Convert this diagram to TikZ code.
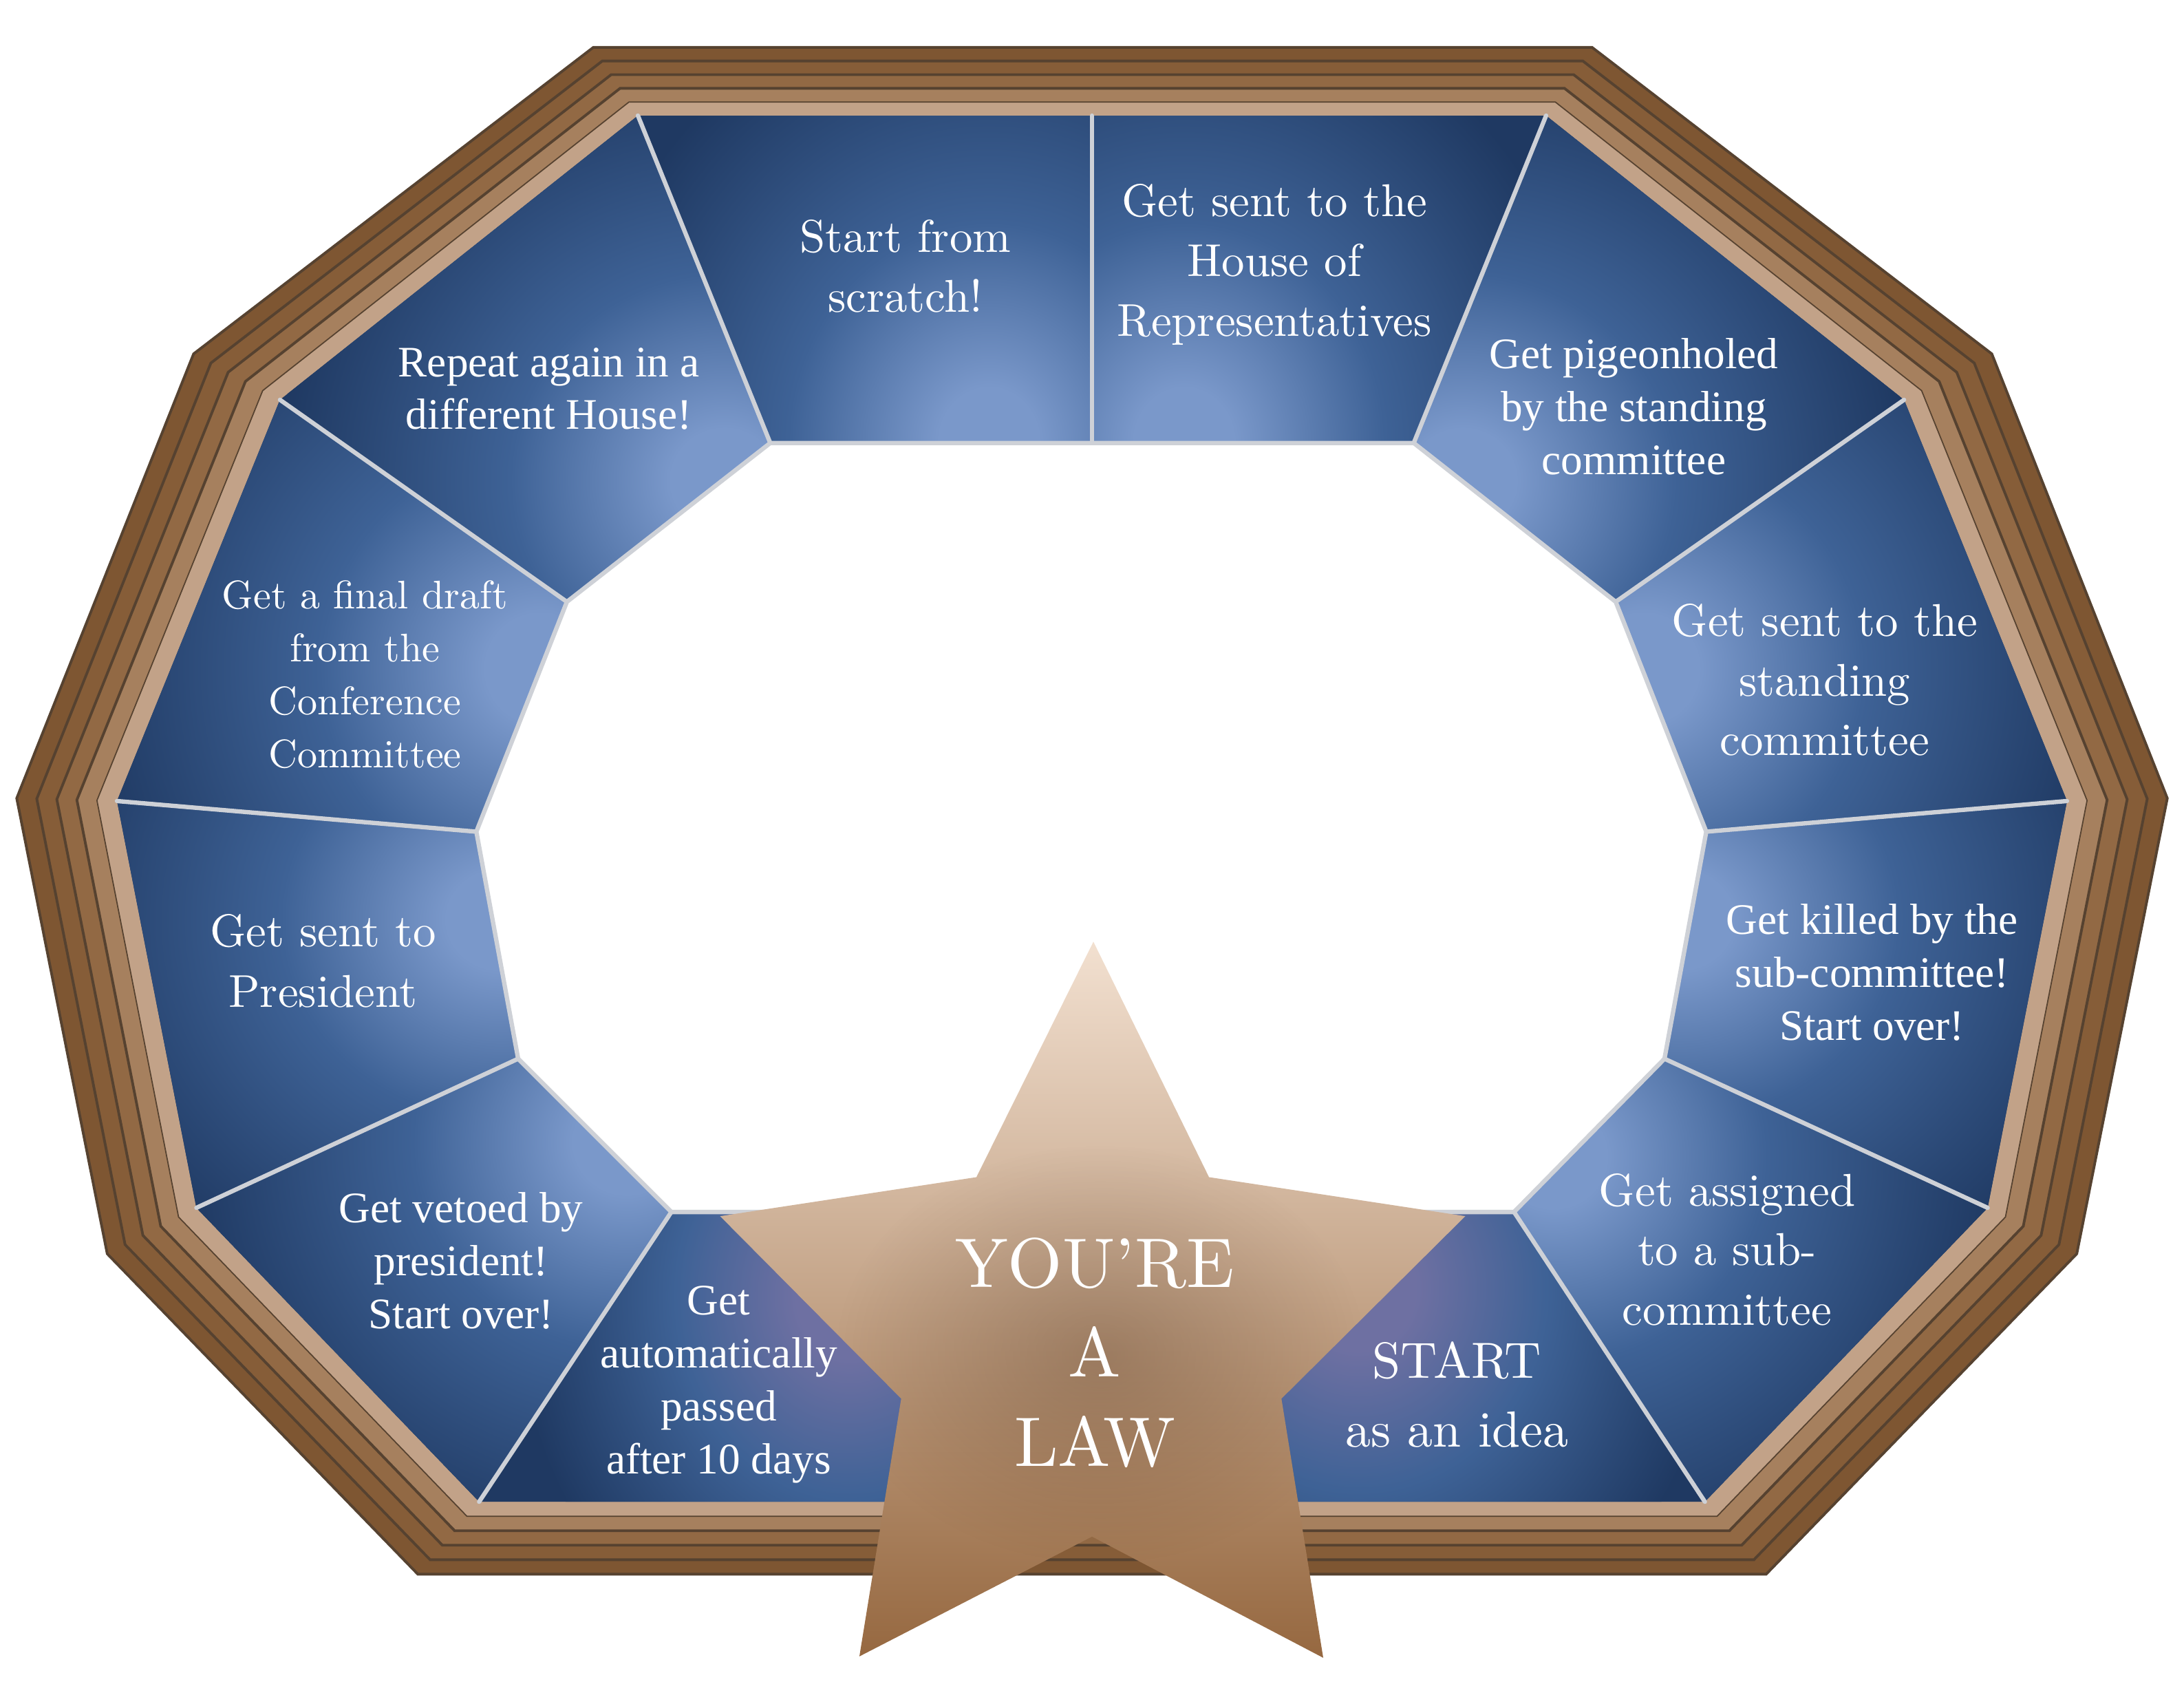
\documentclass[tikz,border=0pt]{standalone}
\usepackage{fontspec}
\newfontfamily\tnr{Liberation Serif}
\newfontfamily\lmr{lmroman10-regular}[Extension=.otf]
\usetikzlibrary{calc,fadings}
\definecolor{fb1}{RGB}{126,86,50}
\definecolor{fb2}{RGB}{134,93,56}
\definecolor{fb3}{RGB}{146,105,68}
\definecolor{fb4}{RGB}{166,128,94}
\definecolor{ftan}{RGB}{194,162,136}
\definecolor{fline}{RGB}{86,66,48}
\definecolor{gd}{RGB}{31,57,98}
\definecolor{gm}{RGB}{62,98,150}
\definecolor{gl}{RGB}{122,152,202}
\definecolor{gp}{RGB}{110,112,162}
\definecolor{sepc}{RGB}{206,209,215}
\definecolor{startop}{RGB}{242,224,208}
\definecolor{starmid}{RGB}{208,168,132}
\definecolor{starbot}{RGB}{150,104,64}
\definecolor{shbrown}{RGB}{70,42,22}
\pgfdeclareradialshading{glow}{\pgfpoint{0bp}{0bp}}{color(0bp)=(gl);color(3bp)=(gl);color(12bp)=(gm);color(25bp)=(gd);color(50bp)=(gd)}
\pgfdeclareradialshading{glowp}{\pgfpoint{0bp}{0bp}}{color(0bp)=(gp);color(4bp)=(gp);color(13bp)=(gm);color(25bp)=(gd);color(50bp)=(gd)}
\tikzfading[name=softfade,inner color=transparent!0,outer color=transparent!100]
\newcommand\framepoly[2]{\path[#2] ($(O1)!#1!(F1)$) -- ($(O2)!#1!(F2)$) -- ($(O3)!#1!(F3)$) -- ($(O4)!#1!(F4)$) -- ($(O5)!#1!(F5)$) -- ($(O6)!#1!(F6)$) -- ($(O7)!#1!(F7)$) -- ($(O8)!#1!(F8)$) -- ($(O9)!#1!(F9)$) -- ($(O10)!#1!(F10)$) -- cycle;}
\newcommand\glowpanel[4]{\begin{scope}\clip #1; \shade[shading=#4] #2 ellipse (#3);\end{scope}}
\begin{document}
\begin{tikzpicture}[x=0.02024cm,y=-0.02024cm,
  sep/.style={draw=sepc,line width=1.8pt,line cap=round},
  lbltxt/.style={align=center,inner sep=0pt,text=white},
  lmtxt/.style={lbltxt,font=\lmr\fontsize{19}{24.7}\selectfont},
  tmtxt/.style={lbltxt,font=\tnr\fontsize{18}{21.9}\selectfont},
  bandline/.style={draw=fline,line width=1.1pt,line join=miter}]
\useasboundingbox (0,0) rectangle (1568,1223);
% frame outer
\coordinate (O1) at (426,34);   \coordinate (F1) at (458,83);
\coordinate (O2) at (1143,34);  \coordinate (F2) at (1110,83);
\coordinate (O3) at (1430,254); \coordinate (F3) at (1367,287);
\coordinate (O4) at (1556,573); \coordinate (F4) at (1484,575);
\coordinate (O5) at (1491,900); \coordinate (F5) at (1427,867);
\coordinate (O6) at (1268,1130);\coordinate (F6) at (1224,1078);
\coordinate (O7) at (300,1130); \coordinate (F7) at (344,1078);
\coordinate (O8) at (77,900);   \coordinate (F8) at (141,867);
\coordinate (O9) at (12,573);   \coordinate (F9) at (84,575);
\coordinate (O10) at (139,254); \coordinate (F10) at (201,287);
\coordinate (M1) at (784,83);
% hole
\coordinate (h1) at (553,318);
\coordinate (h2) at (784,318);
\coordinate (h3) at (1015,318);
\coordinate (h4) at (1160,432);
\coordinate (h5) at (1225,597);
\coordinate (h6) at (1195,760);
\coordinate (h7) at (1087,870);
\coordinate (h8) at (482,870);
\coordinate (h9) at (372,760);
\coordinate (h10) at (342,597);
\coordinate (h11) at (407,432);
% star
\coordinate (s1) at (785,676);
\coordinate (s2) at (868,845);
\coordinate (s3) at (1052,873);
\coordinate (s4) at (920,1004);
\coordinate (s5) at (950,1190);
\coordinate (s6) at (784,1103);
\coordinate (s7) at (617,1189);
\coordinate (s8) at (647,1004);
\coordinate (s9) at (517,873);
\coordinate (s10) at (701,845);

% ---- frame bands
\framepoly{0}{fill=fb1,bandline}
\framepoly{0.2}{fill=fb2,bandline}
\framepoly{0.4}{fill=fb3,bandline}
\framepoly{0.6}{fill=fb4,bandline}
\framepoly{0.8}{fill=ftan,draw=fline,line width=0.5pt}
% ---- panel ring
\fill[gd] (F1) -- (F2) -- (F3) -- (F4) -- (F5) -- (F6) -- (F7) -- (F8) -- (F9) -- (F10) -- cycle;
\glowpanel{(F1) -- (M1) -- (h2) -- (h1) -- cycle}{(710,318)}{300 and 330}{glow}
\glowpanel{(M1) -- (F2) -- (h3) -- (h2) -- cycle}{(850,318)}{300 and 330}{glow}
\glowpanel{(F2) -- (F3) -- (h4) -- (h3) -- cycle}{(1050,345)}{320 and 310}{glow}
\glowpanel{(F3) -- (F4) -- (h5) -- (h4) -- cycle}{(1180,480)}{330 and 330}{glow}
\glowpanel{(F4) -- (F5) -- (h6) -- (h5) -- cycle}{(1205,660)}{330 and 300}{glow}
\glowpanel{(F5) -- (F6) -- (h7) -- (h6) -- cycle}{(1115,830)}{320 and 310}{glow}
\glowpanel{(F6) -- (F7) -- (h8) -- (h7) -- cycle}{(975,925)}{260 and 280}{glowp}
\glowpanel{(F6) -- (F7) -- (h8) -- (h7) -- cycle}{(610,930)}{240 and 280}{glowp}
\glowpanel{(F7) -- (F8) -- (h9) -- (h8) -- cycle}{(450,820)}{320 and 310}{glow}
\glowpanel{(F8) -- (F9) -- (h10) -- (h9) -- cycle}{(360,660)}{330 and 300}{glow}
\glowpanel{(F9) -- (F10) -- (h11) -- (h10) -- cycle}{(388,480)}{330 and 330}{glow}
\glowpanel{(F10) -- (F1) -- (h1) -- (h11) -- cycle}{(520,345)}{320 and 310}{glow}
% ---- separators and hole
\draw[sep] (F1) -- (h1);
\draw[sep] (M1) -- (h2);
\draw[sep] (F2) -- (h3);
\draw[sep] (F3) -- (h4);
\draw[sep] (F4) -- (h5);
\draw[sep] (F5) -- (h6);
\draw[sep] (F6) -- (h7);
\draw[sep] (F7) -- (h8);
\draw[sep] (F8) -- (h9);
\draw[sep] (F9) -- (h10);
\draw[sep] (F10) -- (h11);
\draw[sep,fill=white,line join=round] (h1) -- (h2) -- (h3) -- (h4) -- (h5) -- (h6) -- (h7) -- (h8) -- (h9) -- (h10) -- (h11) -- cycle;
% ---- star
\shade[top color=startop,middle color=starmid,bottom color=starbot]
  (s1) -- (s2) -- (s3) -- (s4) -- (s5) -- (s6) -- (s7) -- (s8) -- (s9) -- (s10) -- cycle;
\begin{scope}
\clip (s1) -- (s2) -- (s3) -- (s4) -- (s5) -- (s6) -- (s7) -- (s8) -- (s9) -- (s10) -- cycle;
\fill[shbrown,path fading=softfade,fill opacity=0.28] (790,972) ellipse (190 and 150);
\end{scope}
% ---- labels
\node[lmtxt] (scratch) at (650,191) {Start from\\scratch!};
\node[lmtxt] (house) at (915,190) {Get sent to the\\House of\\Representatives};
\node[tmtxt] (pigeon) at (1173,292) {Get pigeonholed\\by the standing\\committee};
\node[lmtxt] (standing) at (1310,488) {Get sent to the\\standing\\committee};
\node[tmtxt] (killed) at (1344,698) {Get killed by the\\sub-committee!\\Start over!};
\node[lmtxt] (assigned) at (1240,897) {Get assigned\\to a sub-\\committee};
\node[lbltxt,font=\lmr\fontsize{21}{28.5}\selectfont] (startidea) at (1046,1001) {START\\as an idea};
\node[lbltxt,font=\lmr\fontsize{29}{37}\selectfont] (law) at (786,971) {YOU’RE\\A\\LAW};
\node[tmtxt] (auto) at (516,994) {Get\\automatically\\passed\\after 10 days};
\node[tmtxt] (vetoed) at (331,905) {Get vetoed by\\president!\\Start over!};
\node[lmtxt,font=\lmr\fontsize{19}{25}\selectfont] (president) at (232,690) {Get sent to\\President};
\node[lbltxt,font=\lmr\fontsize{16.5}{21.9}\selectfont] (final) at (262,484) {Get a final draft\\from the\\Conference\\Committee};
\node[tmtxt,font=\tnr\fontsize{18}{21.6}\selectfont] (repeat) at (394,279) {Repeat again in a\\different House!};
\end{tikzpicture}
\end{document}
